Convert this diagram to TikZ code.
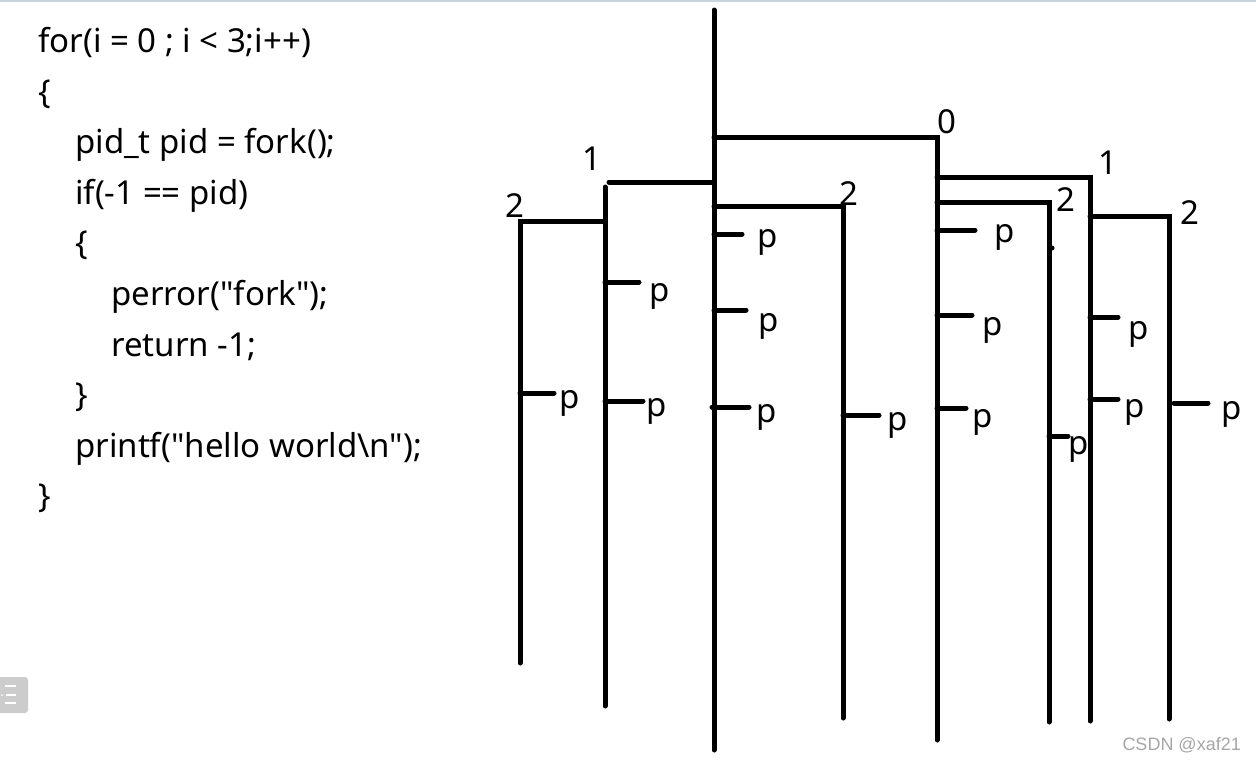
\documentclass[tikz,border=0pt]{standalone}
\usepackage{fontspec}
\setmainfont{Noto Sans}[Ligatures=TeXOff]
\newfontfamily\markfont{Liberation Sans}
\begin{document}
\begin{tikzpicture}[x=1pt, y=-1pt,
  proc/.style={line width=5pt, line cap=round},
  code/.style={anchor=base west, inner sep=0pt, font=\fontsize{33}{38}\selectfont},
  lbl/.style={anchor=base, inner sep=0pt, font=\fontsize{33}{38}\selectfont},
]
  \useasboundingbox (0,0) rectangle (1256,761);
  \draw[color={rgb,255:red,200;green,212;blue,224}, line width=1.5pt] (0,0.8) -- (1256,0.8);

  % the code
  \node[code] (for)    at (38,52)  {for(i = 0 ; i < 3;i++)};
  \node[code] (open)   at (38,103) {\{};
  \node[code] (pidt)   at (75,153) {pid\_t pid = fork();};
  \node[code] (iff)    at (75,204) {if(-1 == pid)};
  \node[code] (iopen)  at (75,254) {\{};
  \node[code] (perr)   at (111,305){perror("fork");};
  \node[code] (ret)    at (111,356){return -1;};
  \node[code] (iclose) at (75,406) {\}};
  \node[code] (prnt)   at (75,457) {printf("hello world\textbackslash n");};
  \node[code] (close)  at (38,507) {\}};

  % branch points of the process tree
  \coordinate (p0)   at (714,10);
  \coordinate (p0e)  at (714,750);
  \coordinate (q0)   at (937,137);
  \coordinate (q0e)  at (937,740);
  \coordinate (p1)   at (605,187);
  \coordinate (p1e)  at (605,706);
  \coordinate (p2)   at (520,221);
  \coordinate (p2e)  at (520,663);
  \coordinate (r2)   at (843,206);
  \coordinate (r2e)  at (843,718);
  \coordinate (q1)   at (1090,177);
  \coordinate (q1e)  at (1090,721);
  \coordinate (s2)   at (1049,202);
  \coordinate (s2e)  at (1049,722);
  \coordinate (q2)   at (1169,216);
  \coordinate (q2e)  at (1169,719);

  % trunks
  \draw[proc] (p0) -- (p0e);
  \draw[proc] (714,137) -- (q0) -- (q0e);
  \draw[proc] (714,182) -- (609,182);
  \draw[proc] (p1) -- (p1e);
  \draw[proc] (605,221) -- (p2) -- (p2e);
  \draw[proc] (714,206) -- (r2) -- (r2e);
  \draw[proc] (937,177) -- (q1) -- (q1e);
  \draw[proc] (937,202) -- (s2) -- (s2e);
  \draw[proc] (1090,216) -- (q2) -- (q2e);
  \fill (1052,248) circle (2.5pt);

  % fork numbers
  \node[lbl] (n0)  at (947,133) {0};
  \node[lbl] (n1a) at (592,170) {1};
  \node[lbl] (n2a) at (515,217) {2};
  \node[lbl] (n2b) at (849,205) {2};
  \node[lbl] (n1b) at (1108,174) {1};
  \node[lbl] (n2c) at (1066,211) {2};
  \node[lbl] (n2d) at (1190,224) {2};

  % printf ticks
  \foreach \x/\y/\len/\px/\py in {
      714/234/28/768/247, 714/310/32/769/331, 712/407/37/767/422,
      605/282/34/660/301, 605/401/38/657/416,
      520/393/34/570/408,
      843/415/36/898/430,
      937/230/38/1005/242, 937/315/35/993/335, 937/408/29/983/427,
      1049/436/19/1079/454,
      1090/317/28/1139/339, 1090/399/28/1135/417,
      1174/403/34/1232/419}{
    \draw[proc] (\x,\y) -- ++(\len,0);
    \node[lbl] at (\px,\py) {p};
  }

  % page furniture
  \fill[gray!40, rounded corners=3pt] (-6,677) rectangle (28,713);
  \draw[white, line width=1.6pt] (5,686) -- (16,686) (6,695) -- (16,695) (5,703) -- (16,703);
  \fill[white] (2,695) circle (1pt);
  \node[anchor=east, inner sep=0pt, text=gray!70, font=\markfont\fontsize{18}{20}\selectfont] (mark) at (1241,745) {CSDN @xaf21};
\end{tikzpicture}
\end{document}
